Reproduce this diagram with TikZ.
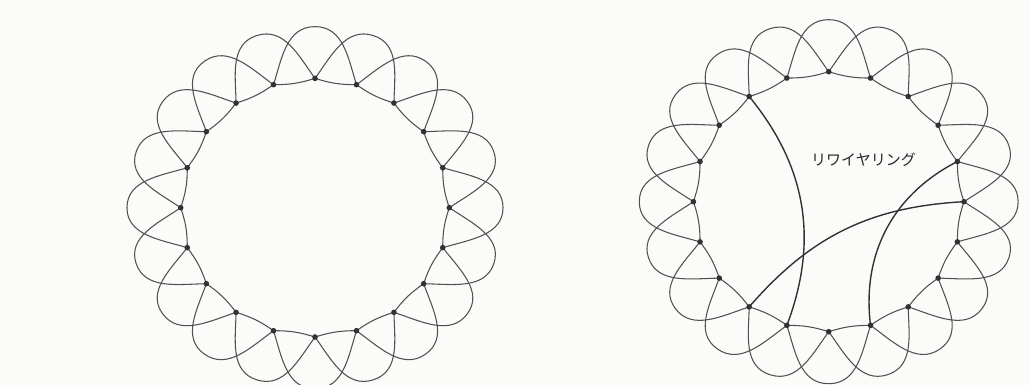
\documentclass[tikz,border=0pt]{standalone}
\usepackage{fontspec}
\newfontfamily\jpfont{Noto Sans CJK JP}
\definecolor{bg}{RGB}{251,251,249}
\definecolor{lc}{RGB}{80,80,80}
\definecolor{dc}{RGB}{50,50,50}
\begin{document}
\begin{tikzpicture}[x=1pt,y=1pt,
  latt/.style={draw=lc, line width=1.05pt},
  rewire/.style={draw=dc, line width=1.4pt},
  vdot/.style={circle, fill=dc, inner sep=0pt, minimum size=5.6pt},
  lbl/.style={font=\jpfont\fontsize{15}{18}\selectfont, text=black!85}]
\fill[bg] (0,0) rectangle (1030,385);
\useasboundingbox (0,0) rectangle (1030,385);
\foreach \P/\cx/\cy/\r/\ys in {L/315/177.3/134.3/0.963, R/828.7/183.3/135.3/0.961}{
  \begin{scope}[shift={(\cx,\cy)}, yscale=\ys]
    \foreach \i in {0,...,19}{
      \pgfmathsetmacro\ang{\i*18}
      \pgfmathsetmacro\angA{\i*18+18}
      \pgfmathsetmacro\rA{\r*1.4}
      \coordinate (\P\i) at (\ang:\r);
      \coordinate (\P A\i) at (\angA:\rA);
    }
    \foreach \i in {0,...,19}{
      \pgfmathtruncatemacro\j{mod(\i+2,20)}
      \pgfmathtruncatemacro\k{mod(\i+1,20)}
      \pgfmathsetmacro\oa{\i*18+35}
      \pgfmathsetmacro\ia{\i*18-72}
      \pgfmathsetmacro\ob{\i*18+108}
      \pgfmathsetmacro\ib{\i*18+1}
      \draw[latt] (\P\i) to[out=\oa, in=\ia] (\P A\i) to[out=\ob, in=\ib] (\P\j);
      \draw[latt] (\P\i) to[bend left=9] (\P\k);
    }
  \end{scope}
}
\draw[rewire] (R7) to[bend left=30] (R14);
\draw[rewire] (R13) to[bend left=23] (R0);
\draw[rewire] (R1) to[bend right=35] (R16);
\foreach \P in {L,R}{
  \foreach \i in {0,...,19}{
    \node[vdot] (\P d\i) at (\P\i) {};
  }
}
\node[lbl] (lab) at (863.5,225) {リワイヤリング};
\end{tikzpicture}
\end{document}
